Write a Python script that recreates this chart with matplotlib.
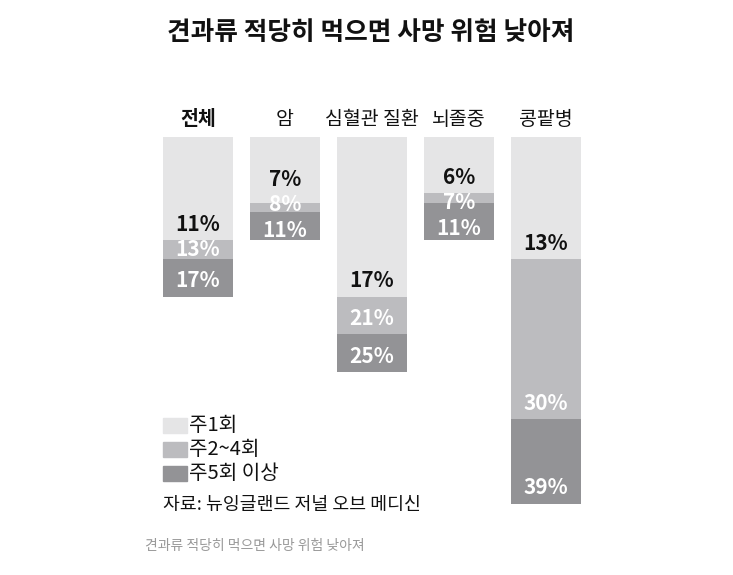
import matplotlib.pyplot as plt
from matplotlib.patches import Rectangle

plt.rcParams['font.family'] = ['Noto Sans CJK KR', 'DejaVu Sans']

# 견과류 섭취 빈도별 사망 위험 감소율 (%)
categories = ['전체', '암', '심혈관 질환', '뇌졸중', '콩팥병']
once_week = [11, 7, 17, 6, 13]        # 주1회
two_four_week = [13, 8, 21, 7, 30]    # 주2~4회
five_plus_week = [17, 11, 25, 11, 39] # 주5회 이상
legend_labels = ['주1회', '주2~4회', '주5회 이상']

c_light = '#e5e5e6'
c_mid = '#bcbcbf'
c_dark = '#939396'
colors = [c_light, c_mid, c_dark]

W, H = 733, 575
fig = plt.figure(figsize=(W / 100, H / 100), dpi=100)

# 축을 픽셀 위치에 맞춤: 막대 윗변 y=137px, 1% = 9.4px, 막대 간격 87px
top_px, px_per = 137, 9.4
ymax = 45
ax = fig.add_axes([0, 1 - (top_px + ymax * px_per) / H, 1, ymax * px_per / H])
x0, dx = 198, 87
ax.set_xlim(-x0 / dx, (W - x0) / dx)
ax.set_ylim(ymax, 0)
ax.axis('off')

xs = list(range(len(categories)))
bw = 70 / dx
# 겹쳐 그린 막대 (큰 값부터)
ax.bar(xs, five_plus_week, bw, color=c_dark)
ax.bar(xs, two_four_week, bw, color=c_mid)
ax.bar(xs, once_week, bw, color=c_light)

# 라벨 위치: 각 구간 아래쪽에서 약간 위, 서로 겹치지 않게 간격 유지
gap, pad, min_pad = 2.7, 1.0, 0.4
for i in xs:
    vals = [once_week[i], two_four_week[i], five_plus_week[i]]
    ys = []
    for v in vals:
        y = v - pad
        if ys:
            y = max(y, ys[-1] + gap)
        ys.append(y)
    over = ys[-1] - (vals[-1] - min_pad)
    if over > 0:
        ys = [y - over for y in ys]
    for k, (v, y) in enumerate(zip(vals, ys)):
        ax.text(i, y, f'{v}%', ha='center', va='baseline', fontsize=15,
                fontweight='bold', color='#111111' if k == 0 else 'white')
    ax.text(i, -1.9, categories[i], ha='center', va='center', fontsize=14,
            fontweight='bold' if i == 0 else 'normal', color='#111111')

fig.text(371 / W, 1 - 33 / H, '견과류 적당히 먹으면 사망 위험 낮아져',
         ha='center', va='center', fontsize=18.5, fontweight='bold', color='#111111')

# 범례
for k, (lab, c) in enumerate(zip(legend_labels, colors)):
    yc = 425.5 + 24 * k
    fig.patches.append(Rectangle((163 / W, 1 - (yc + 7.5) / H), 24 / W, 15 / H,
                                 transform=fig.transFigure, color=c))
    fig.text(189 / W, 1 - yc / H, lab, ha='left', va='center', fontsize=14.5,
             color='#111111')

fig.text(163 / W, 1 - 505 / H, '자료: 뉴잉글랜드 저널 오브 메디신', ha='left', va='center',
         fontsize=13.2, color='#111111')
fig.text(145 / W, 1 - 546 / H, '견과류 적당히 먹으면 사망 위험 낮아져', ha='left', va='center',
         fontsize=10, color='#999999')

fig.savefig('out.png', dpi=100, facecolor='white')
